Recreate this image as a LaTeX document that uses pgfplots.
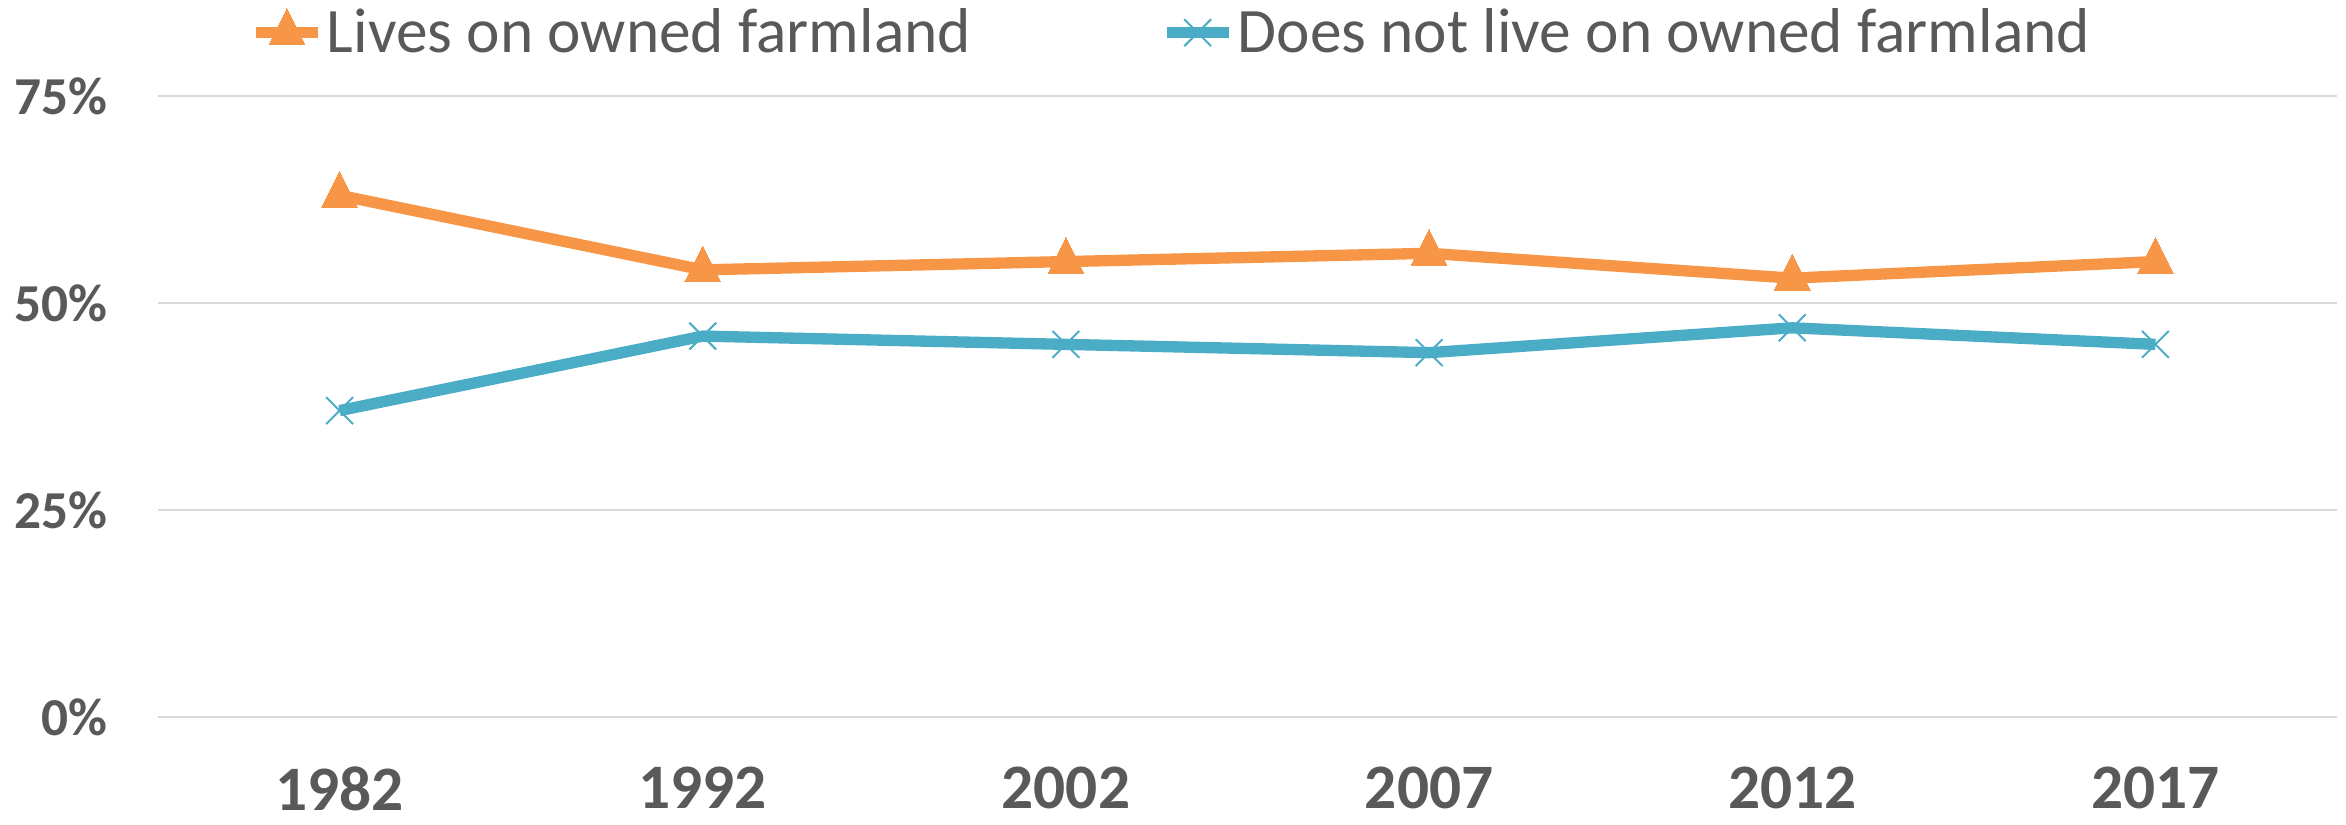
\documentclass[border=0pt]{standalone}
\usepackage{pgfplots}
\pgfplotsset{compat=1.18}
\usepackage{fontspec}
\setmainfont{Carlito}
\definecolor{orangeS}{HTML}{F79646}
\definecolor{blueS}{HTML}{4BACC6}
\definecolor{gridG}{HTML}{D9D9D9}
\definecolor{textG}{HTML}{595959}
\begin{document}
\begin{tikzpicture}
\begin{axis}[
  name=ax,
  scale only axis,
  width=653.7pt, height=186.3pt,
  xmin=-0.5, xmax=5.5,
  ymin=0, ymax=75,
  xtick={0,1,2,3,4,5},
  xticklabels={1982,1992,2002,2007,2012,2017},
  ytick={0,25,50,75},
  yticklabels={0\%,25\%,50\%,75\%},
  axis line style={draw=none},
  major tick length=0pt,
  ymajorgrids,
  grid style={gridG, line width=0.6pt},
  ticklabel style={textG},
  xticklabel style={font=\bfseries\fontsize{19}{19}\selectfont, anchor=north, inner sep=0pt, yshift=-14.8pt},
  yticklabel style={font=\bfseries\fontsize{16}{16}\selectfont, anchor=east, inner sep=0pt, xshift=-15pt},
  legend columns=2,
  legend style={at={(0.0436,1)}, anchor=west, xshift=-1pt, yshift=19pt,
    draw=none, fill=none, font=\fontsize{19}{19}\selectfont, text=textG,
    inner sep=0pt,
    /tikz/every even column/.append style={column sep=56pt},
    nodes={inner sep=1pt}},
  legend image code/.code={
    \draw[mark repeat=2, mark phase=2] plot coordinates {(0pt,0pt) (9.3pt,0pt) (18.6pt,0pt)};
  },
]
\addplot[orangeS, line width=3.4pt, mark=triangle*, mark size=6.2pt,
  mark options={solid, line width=0pt, fill=orangeS, yscale=1.15}]
  coordinates {(0,63) (1,54) (2,55) (3,56) (4,53) (5,55)};
\addlegendentry{Lives on owned farmland}
\addplot[blueS, line width=3.4pt, mark=x, mark size=5.7pt,
  mark options={solid, line width=0.6pt}]
  coordinates {(0,37) (1,46) (2,45) (3,44) (4,47) (5,45)};
\addlegendentry{Does not live on owned farmland}
\end{axis}
\pgfresetboundingbox
\path (ax.south west) ++(-47.4pt,-32.4pt) rectangle ([shift={(2.7pt,28.8pt)}]ax.north east);
\end{tikzpicture}
\end{document}
